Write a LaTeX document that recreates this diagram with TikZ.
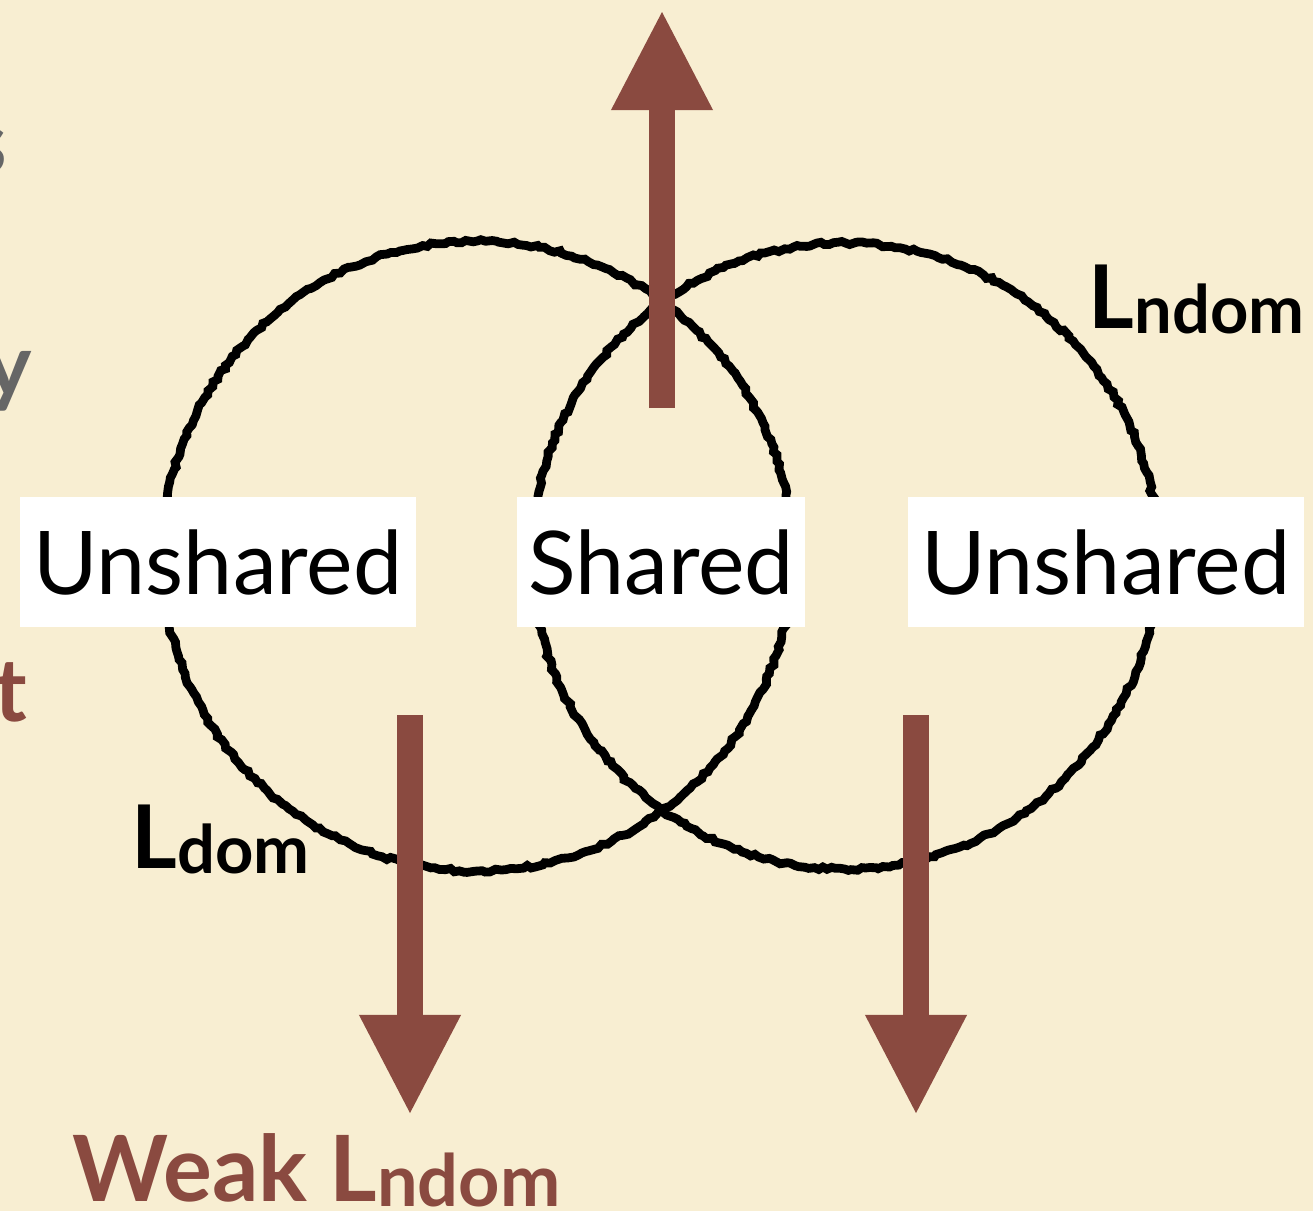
\documentclass[tikz,border=0pt]{standalone}
\usepackage{fontspec}
\setmainfont{Lato}
\usetikzlibrary{arrows.meta,decorations.pathmorphing}
\definecolor{paper}{HTML}{F8EED2}
\definecolor{rust}{HTML}{8A4A40}
\definecolor{slate}{HTML}{666666}
\tikzset{
  ring/.style={line width=2.5pt, decorate,
    decoration={random steps, segment length=1.3pt, amplitude=0.45pt}},
  fatarrow/.style={rust, line width=0.26cm,
    -{Triangle[width=1.02cm,length=0.98cm,line width=0pt]}},
  region/.style={fill=white, inner sep=0pt, minimum height=1.30cm,
    font=\fontsize{25}{30}\selectfont},
  lbl/.style={font=\bfseries\fontsize{25}{30}\selectfont, anchor=base west, inner sep=0pt},
  edge/.style={font=\bfseries\fontsize{25}{30}\selectfont, anchor=base east, inner sep=0pt}
}
\newcommand{\subtxt}[1]{\raisebox{-0.05cm}{\fontsize{19}{22}\selectfont #1}}

\begin{document}
\begin{tikzpicture}[x=0.01cm, y=-0.01cm]
  % Paper
  \fill[paper] (0,0) rectangle (1313,1211);
  \useasboundingbox (0,0) rectangle (1313,1211);
  \clip (0,0) rectangle (1313,1211);

  % Cut-off words at the left edge
  \node[edge, slate] (cuts) at (8,173) {s};
  \node[edge, slate] (cuty) at (33,396) {y};
  \node[edge, rust] (cutt) at (28,721) {t};

  % Two sets
  \draw[ring] (477,556) circle[radius=315];
  \draw[ring] (845,556) circle[radius=313];

  % Region names
  \node[region, minimum width=3.96cm] (leftpart) at (218,562) {Unshared};
  \node[region, minimum width=2.88cm] (midpart) at (661,562) {Shared};
  \node[region, minimum width=3.96cm] (rightpart) at (1106,562) {Unshared};

  % Arrows
  \coordinate (upfoot) at (662,408);
  \coordinate (uptip) at (662,12);
  \coordinate (leftfoot) at (410,715);
  \coordinate (lefttip) at (410,1113);
  \coordinate (rightfoot) at (916,715);
  \coordinate (righttip) at (916,1113);
  \draw[fatarrow] (upfoot) -- (uptip);
  \draw[fatarrow] (leftfoot) -- (lefttip);
  \draw[fatarrow] (rightfoot) -- (righttip);

  % Set labels
  \node[lbl] (ndom) at (1088,328) {L\subtxt{ndom}};
  \node[lbl] (dom) at (131,868) {L\subtxt{dom}};
  \node[lbl, rust, font=\bfseries\fontsize{26}{30}\selectfont] (weak) at (72,1201)
    {Weak L\raisebox{-0.05cm}{\fontsize{20.5}{24}\selectfont ndom}};
\end{tikzpicture}
\end{document}
